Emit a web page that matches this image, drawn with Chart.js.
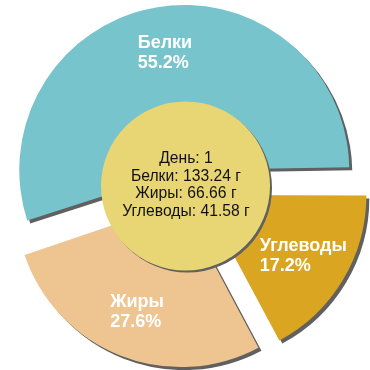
<!DOCTYPE html>
<html>
<head>
<meta charset="utf-8">
<script src="https://cdn.jsdelivr.net/npm/chart.js@4/dist/chart.umd.min.js"></script>
<style>
	html, body { margin: 0; padding: 0; background: #ffffff; }
	#wrap { width: 370px; height: 370px; }
</style>
</head>
<body>
<div id="wrap"><canvas id="chart" width="370" height="370"></canvas></div>
<script>
// values
const categories = ["Белки", "Углеводы", "Жиры"];
const percents = [55.2, 17.2, 27.6];
const grams = [133.24, 41.58, 66.66];
const dayLabel = "День: 1";
const centerLines = [
	dayLabel,
	"Белки: 133.24 г",
	"Жиры: 66.66 г",
	"Углеводы: 41.58 г"
];
const colors = ["#78c4cc", "#daa520", "#eec591"];

const OFFSET = 67;      // arc offset (chart.js moves the arc by offset/4)
const RADIUS = 165;

// chart.js grows arcs over 180 deg by offset; undo that so all slices match
const fixRadius = {
	id: "fixRadius",
	afterDatasetsUpdate(chart) {
		const meta = chart.getDatasetMeta(0);
		meta.data.forEach((arc) => {
			const circ = arc.endAngle - arc.startAngle;
			const grow = (OFFSET / 4) * (1 - Math.sin(Math.min(Math.PI, circ)));
			arc.outerRadius = RADIUS - grow;
		});
	}
};

const decor = {
	id: "decor",
	beforeDatasetsDraw(chart) {
		const ctx = chart.ctx;
		ctx.save();
		ctx.shadowColor = "#606060";
		ctx.shadowOffsetX = 3;
		ctx.shadowOffsetY = 3;
		ctx.shadowBlur = 0;
	},
	afterDatasetsDraw(chart) {
		const ctx = chart.ctx;
		ctx.restore();

		const meta = chart.getDatasetMeta(0);
		const cx = meta.data[0].x;
		const cy = meta.data[0].y;

		// slice labels
		ctx.save();
		ctx.fillStyle = "#ffffff";
		ctx.font = "bold 18px 'Liberation Sans', Arial, sans-serif";
		ctx.textAlign = "left";
		ctx.textBaseline = "middle";
		meta.data.forEach((arc, i) => {
			const mid = (arc.startAngle + arc.endAngle) / 2;
			const r = OFFSET / 4 + RADIUS * 0.72;
			const x = cx + Math.cos(mid) * r;
			const y = cy + Math.sin(mid) * r;
			const l1 = categories[i];
			const l2 = percents[i].toFixed(1) + "%";
			const w = Math.max(ctx.measureText(l1).width, ctx.measureText(l2).width);
			ctx.fillText(l1, x - w / 2, y - 10);
			ctx.fillText(l2, x - w / 2, y + 10);
		});
		ctx.restore();

		// centre disc
		ctx.save();
		ctx.shadowColor = "#606060";
		ctx.shadowOffsetX = 2;
		ctx.shadowOffsetY = 2;
		ctx.beginPath();
		ctx.arc(cx - 1.5, cy - 0.5, 84.5, 0, Math.PI * 2);
		ctx.fillStyle = "#e8d675";
		ctx.fill();
		ctx.restore();

		ctx.save();
		ctx.fillStyle = "#111111";
		ctx.font = "15.7px 'Liberation Sans', Arial, sans-serif";
		ctx.textAlign = "center";
		ctx.textBaseline = "alphabetic";
		centerLines.forEach((t, i) => {
			ctx.fillText(t, cx - 1, 163 + i * 17.5);
		});
		ctx.restore();
	}
};

new Chart(document.getElementById("chart"), {
	type: "pie",
	data: {
		labels: categories,
		datasets: [{
			data: percents,
			backgroundColor: colors,
			borderWidth: 0,
			offset: OFFSET
		}]
	},
	options: {
		responsive: false,
		animation: false,
		events: [],
		rotation: -108.72,
		radius: RADIUS,
		layout: { padding: { left: 4, right: 0, top: 3, bottom: 0 } },
		plugins: {
			legend: { display: false },
			tooltip: { enabled: false }
		}
	},
	plugins: [fixRadius, decor]
});
</script>
</body>
</html>
